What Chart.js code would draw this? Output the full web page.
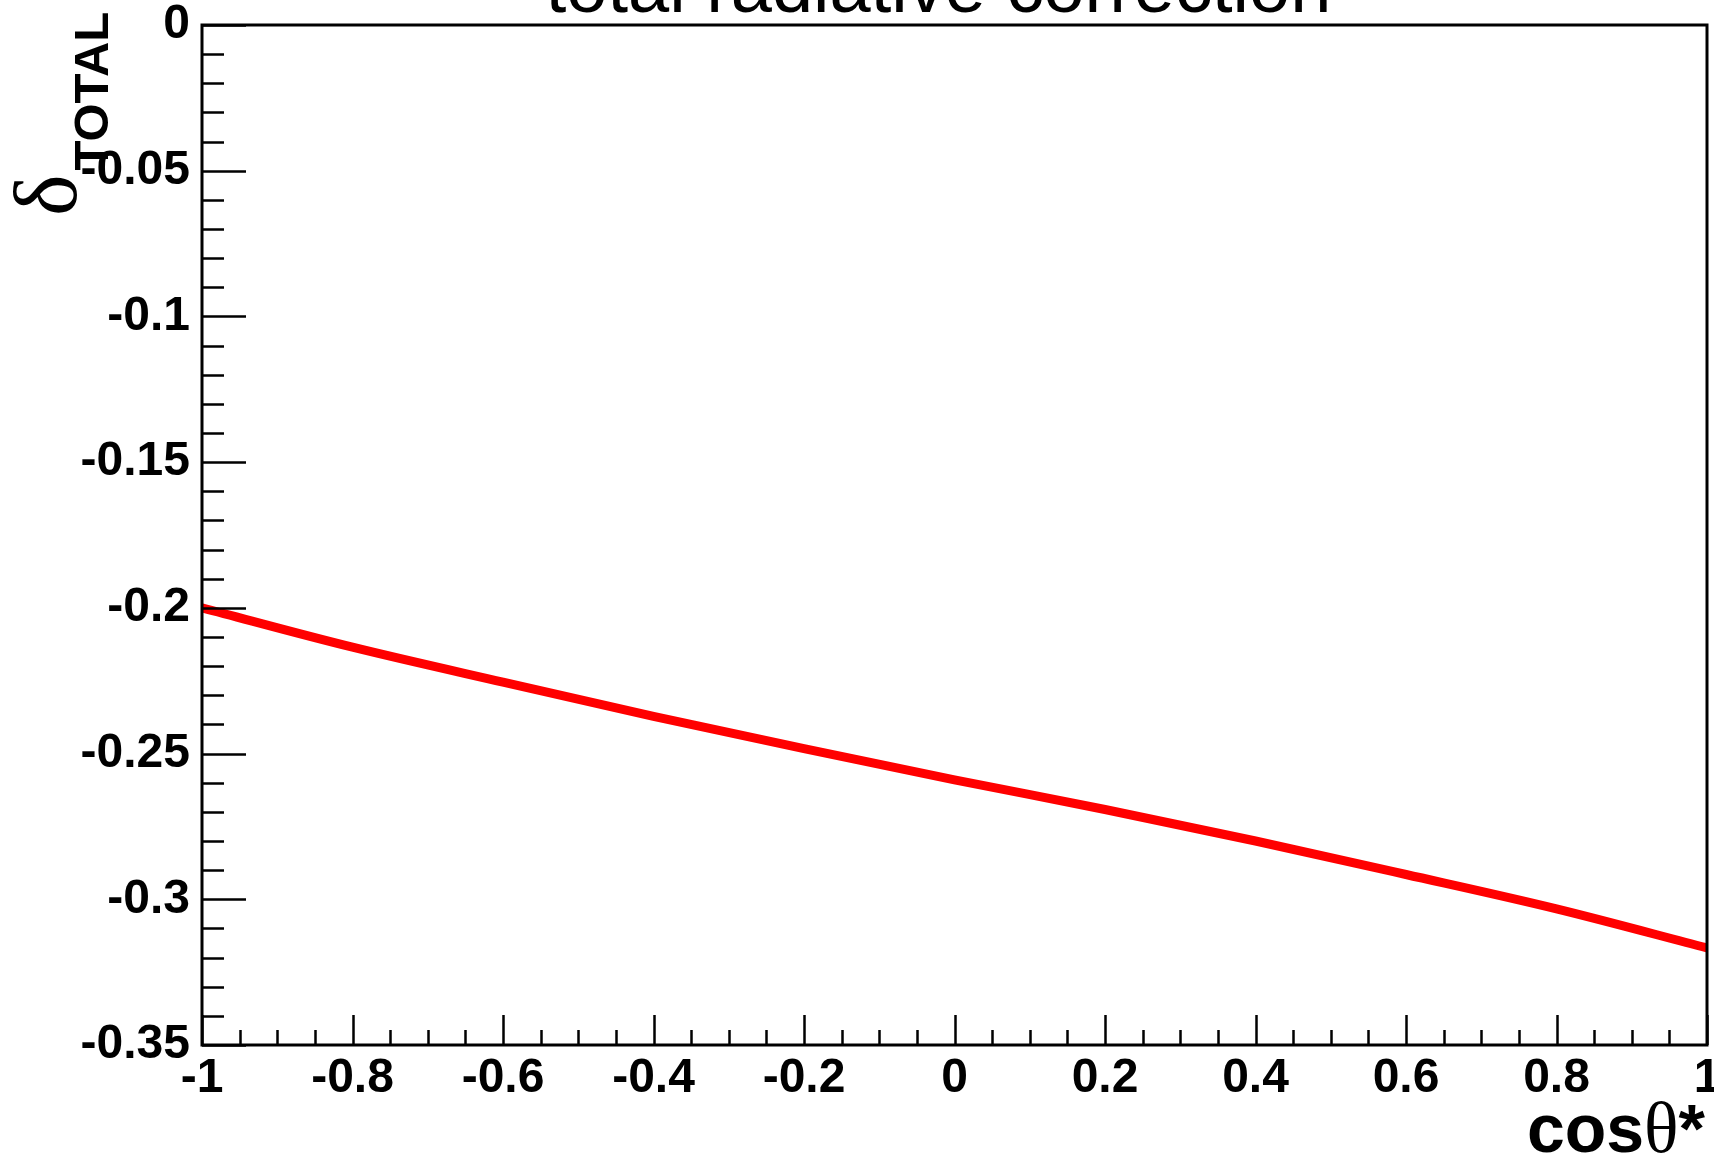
<!DOCTYPE html>
<html>
<head>
<meta charset="utf-8">
<script src="https://cdn.jsdelivr.net/npm/chart.js@4.4.1/dist/chart.umd.min.js"></script>
<style>
    html, body { margin: 0; padding: 0; background: #fff; }
    #wrap { width: 1714px; height: 1156px; position: relative; }
</style>
</head>
<body>
<div id="wrap"><canvas id="radChart"></canvas></div>
<script>
// values
const cosTheta = [-1, -0.8, -0.6, -0.4, -0.2, 0, 0.2, 0.4, 0.6, 0.8, 1];
const deltaTotal = [-0.2000, -0.2135, -0.2255, -0.2372, -0.2483, -0.2590, -0.2692, -0.2800, -0.2915, -0.3033, -0.3167];

// axis ticks
const xMajorTicks = [-1, -0.8, -0.6, -0.4, -0.2, 0, 0.2, 0.4, 0.6, 0.8, 1];
const yMajorTicks = [0, -0.05, -0.1, -0.15, -0.2, -0.25, -0.3, -0.35];
const xMinorStep = 0.05;
const yMinorStep = 0.01;

const chartTitle = 'total radiative correction';
const xAxisTitle = ['cos', 'θ', '*'];
const yAxisTitle = ['δ', 'TOTAL'];

const SANS = '"Liberation Sans", Arial, Helvetica, sans-serif';
const SERIF = '"Liberation Serif", "Times New Roman", serif';

// ROOT style frame: box, inward ticks, title and axis titles
const rootFrame = {
    id: 'rootFrame',
    afterDraw(chart) {
        const ctx = chart.ctx;
        const area = chart.chartArea;
        const xs = chart.scales.x;
        const ys = chart.scales.y;
        ctx.save();
        ctx.strokeStyle = '#000';
        ctx.fillStyle = '#000';

        // frame
        ctx.lineWidth = 3;
        ctx.strokeRect(area.left, area.top, area.right - area.left, area.bottom - area.top);

        // ticks
        ctx.lineWidth = 2.5;
        ctx.beginPath();
        for (let v = ys.min; v <= ys.max + 1e-9; v += yMinorStep) {
            const y = Math.round(ys.getPixelForValue(v)) + 0.5;
            const major = yMajorTicks.some(t => Math.abs(t - v) < 1e-6);
            ctx.moveTo(area.left, y);
            ctx.lineTo(area.left + (major ? 44 : 22), y);
        }
        for (let v = xs.min; v <= xs.max + 1e-9; v += xMinorStep) {
            const x = Math.round(xs.getPixelForValue(v)) + 0.5;
            const major = xMajorTicks.some(t => Math.abs(t - v) < 1e-6);
            ctx.moveTo(x, area.bottom);
            ctx.lineTo(x, area.bottom - (major ? 30 : 15));
        }
        ctx.stroke();

        // title (partly cut off at the top, as in the original)
        ctx.font = 'normal 74px ' + SANS;
        ctx.textAlign = 'center';
        ctx.textBaseline = 'alphabetic';
        ctx.fillText(chartTitle, (area.left + area.right) / 2 - 16, 12);

        // x axis title, right aligned to the frame
        ctx.textAlign = 'left';
        const xParts = [
            { text: xAxisTitle[0], font: 'bold 68px ' + SANS },
            { text: xAxisTitle[1], font: 'normal 72px ' + SERIF },
            { text: xAxisTitle[2], font: 'bold 68px ' + SANS }
        ];
        let total = 0;
        xParts.forEach(p => { ctx.font = p.font; p.w = ctx.measureText(p.text).width; total += p.w; });
        let cx = area.right - 2 - total;
        xParts.forEach(p => { ctx.font = p.font; ctx.fillText(p.text, cx, 1152); cx += p.w; });

        // y axis title, rotated, with subscript
        ctx.translate(76, 216);
        ctx.rotate(-Math.PI / 2);
        ctx.font = 'normal 88px ' + SERIF;
        ctx.fillText(yAxisTitle[0], 0, 0);
        const dw = ctx.measureText(yAxisTitle[0]).width;
        ctx.font = 'bold 49px ' + SANS;
        ctx.fillText(yAxisTitle[1], dw + 4, 32);

        ctx.restore();
    }
};

function buildChart() {
    const ctx = document.getElementById('radChart').getContext('2d');
    const points = cosTheta.map((c, i) => ({ x: c, y: deltaTotal[i] }));

    new Chart(ctx, {
        type: 'line',
        data: {
            datasets: [{
                label: 'delta total',
                data: points,
                borderColor: '#ff0000',
                borderWidth: 9,
                pointRadius: 0,
                cubicInterpolationMode: 'monotone'
            }]
        },
        options: {
            responsive: true,
            maintainAspectRatio: false,
            animation: false,
            layout: { padding: { left: 0, top: 25, right: 7, bottom: 0 } },
            plugins: {
                legend: { display: false },
                title: { display: false },
                tooltip: { enabled: false }
            },
            scales: {
                x: {
                    type: 'linear',
                    min: -1,
                    max: 1,
                    grid: { display: false, drawTicks: false },
                    border: { display: false },
                    afterBuildTicks: scale => { scale.ticks = xMajorTicks.map(v => ({ value: v })); },
                    afterFit: scale => {
                        scale.height = 111;
                        scale.paddingLeft = 0;
                        scale.paddingRight = 0;
                    },
                    ticks: {
                        color: '#000',
                        padding: 5,
                        maxRotation: 0,
                        autoSkip: false,
                        font: { family: SANS, weight: 'bold', size: 48 },
                        callback: value => String(+value.toFixed(2))
                    }
                },
                y: {
                    type: 'linear',
                    min: -0.35,
                    max: 0,
                    grid: { display: false, drawTicks: false },
                    border: { display: false },
                    afterBuildTicks: scale => { scale.ticks = yMajorTicks.map(v => ({ value: v })); },
                    afterFit: scale => {
                        scale.width = 202;
                        scale.paddingTop = 0;
                        scale.paddingBottom = 0;
                    },
                    ticks: {
                        color: '#000',
                        padding: 12,
                        autoSkip: false,
                        font: { family: SANS, weight: 'bold', size: 48 },
                        callback: value => String(+value.toFixed(2))
                    }
                }
            }
        },
        plugins: [rootFrame]
    });
}

document.addEventListener('DOMContentLoaded', buildChart);
</script>
</body>
</html>
